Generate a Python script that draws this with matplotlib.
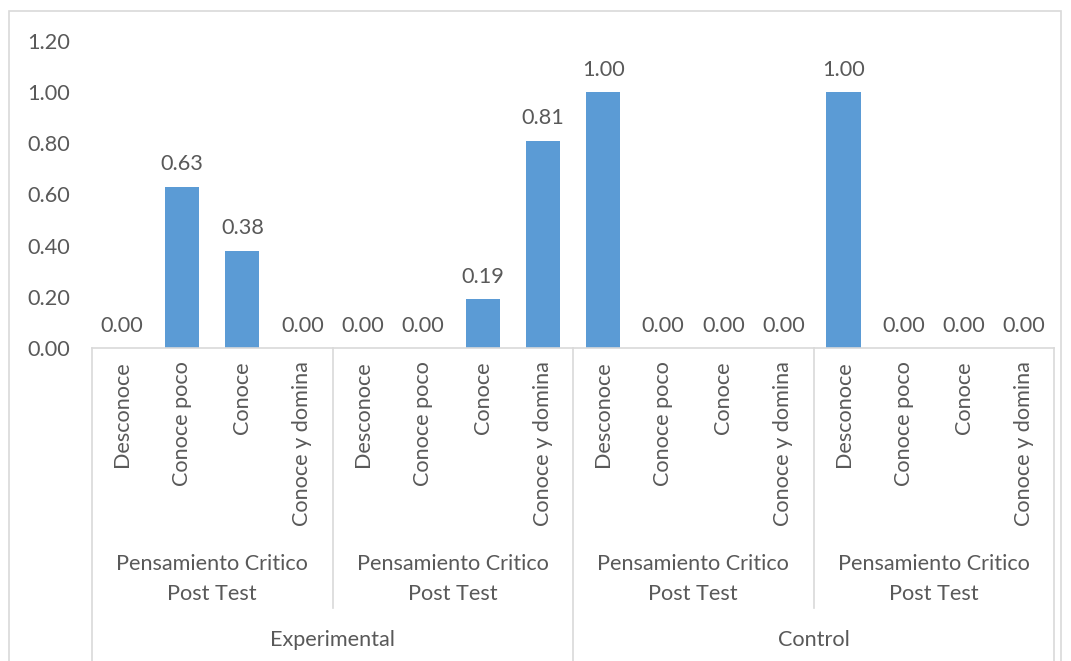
import matplotlib.pyplot as plt
import numpy as np
from matplotlib.patches import Rectangle
import matplotlib.transforms as mtransforms

plt.rcParams['font.family'] = ['Lato', 'DejaVu Sans']

# data
levels = ['Desconoce', 'Conoce poco', 'Conoce', 'Conoce y domina']
subgroup = 'Pensamiento Critico\nPost Test'
groups = ['Experimental', 'Control']
values = [0.00, 0.63, 0.38, 0.00,
          0.00, 0.00, 0.19, 0.81,
          1.00, 0.00, 0.00, 0.00,
          1.00, 0.00, 0.00, 0.00]

text_color = '#595959'
line_color = '#d9d9d9'
bar_color = '#5b9bd5'
fs = 15.6

W, H = 1071, 661
fig = plt.figure(figsize=(W / 100, H / 100), dpi=100)
ax = fig.add_axes([92 / W, (H - 348) / H, (1054 - 92) / W, (348 - 41) / H])

n = len(values)
x = np.arange(n)
ax.bar(x, values, width=0.57, color=bar_color, zorder=2)
ax.set_xlim(-0.5, n - 0.5)
ax.set_ylim(0, 1.2)
ax.set_yticks(np.arange(0, 1.21, 0.2))
ax.set_yticklabels([f'{v:.2f}' for v in np.arange(0, 1.21, 0.2)])
ax.tick_params(axis='y', length=0, pad=16, labelsize=fs, labelcolor=text_color)
ax.set_xticks([])
for s in ['top', 'right', 'left']:
    ax.spines[s].set_visible(False)
ax.spines['bottom'].set_color(line_color)
ax.spines['bottom'].set_linewidth(1.2)

for i, v in enumerate(values):
    ax.annotate(f'{v:.2f}', xy=(i, v), xytext=(0, 9), textcoords='offset points',
                ha='center', va='bottom', fontsize=fs, color=text_color)

# multi-level category axis
px = mtransforms.blended_transform_factory(ax.transData, fig.transFigure)
def fy(py):
    return (H - py) / H

for i in range(n):
    ax.text(i, fy(361), levels[i % 4], transform=px, rotation=90, ha='center', va='top',
            fontsize=fs, color=text_color)

n_sub = n // 4
for j in range(n_sub):
    ax.text(j * 4 + 1.5, fy(579), subgroup, transform=px, ha='center', va='center',
            fontsize=fs, color=text_color, linespacing=1.65)
for k, g in enumerate(groups):
    ax.text(k * 8 + 3.5, fy(640), g, transform=px, ha='center', va='center',
            fontsize=fs, color=text_color)

for j in range(n_sub + 1):
    xb = j * 4 - 0.5
    bottom = fy(H + 5) if j % 2 == 0 else fy(608)
    ax.plot([xb, xb], [fy(348), bottom], transform=px, color=line_color,
            linewidth=1.2, clip_on=False)

# chart border
fig.patches.append(Rectangle((9 / W, -0.05), (1061 - 9) / W, fy(11) + 0.05,
                             transform=fig.transFigure, fill=False,
                             edgecolor=line_color, linewidth=1.2))

fig.savefig('out.png', dpi=100, facecolor='white')
